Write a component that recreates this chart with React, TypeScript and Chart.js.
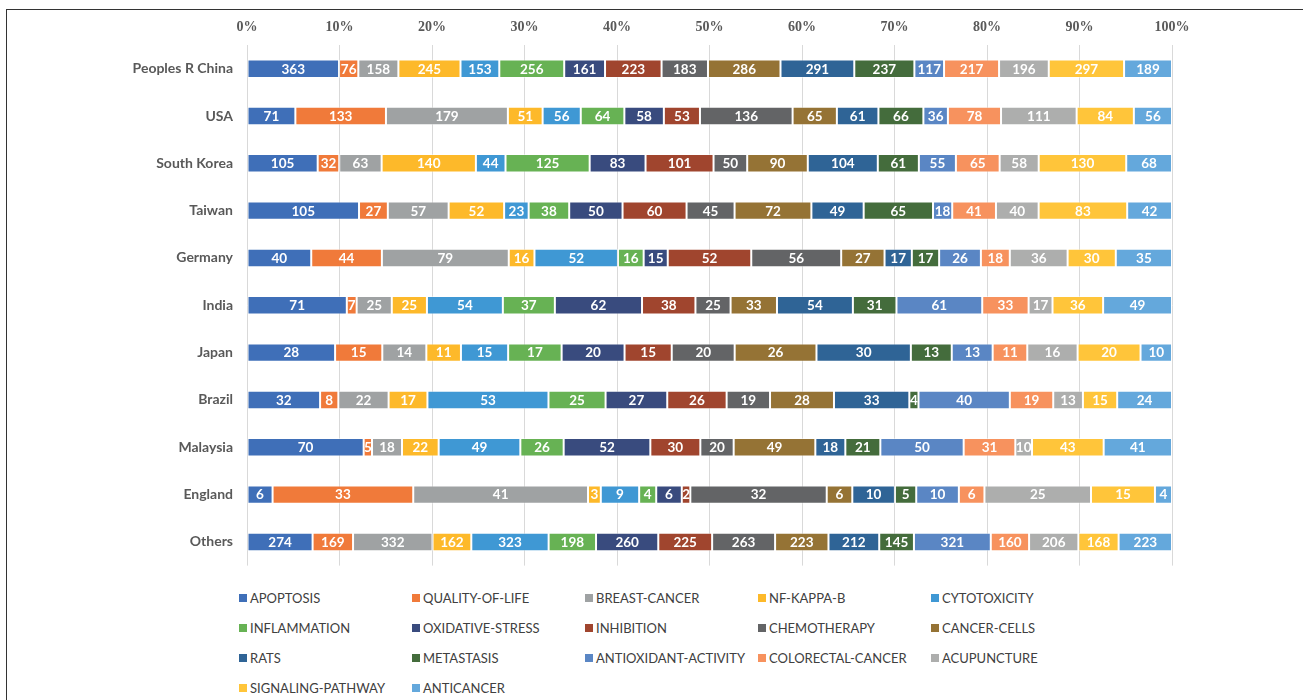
import React, { useEffect, useRef } from "react";
import { Chart, registerables } from "chart.js";

Chart.register(...registerables);

const countries = [
  "Peoples R China",
  "USA",
  "South Korea",
  "Taiwan",
  "Germany",
  "India",
  "Japan",
  "Brazil",
  "Malaysia",
  "England",
  "Others",
];

const keywords = [
  "APOPTOSIS",
  "QUALITY-OF-LIFE",
  "BREAST-CANCER",
  "NF-KAPPA-B",
  "CYTOTOXICITY",
  "INFLAMMATION",
  "OXIDATIVE-STRESS",
  "INHIBITION",
  "CHEMOTHERAPY",
  "CANCER-CELLS",
  "RATS",
  "METASTASIS",
  "ANTIOXIDANT-ACTIVITY",
  "COLORECTAL-CANCER",
  "ACUPUNCTURE",
  "SIGNALING-PATHWAY",
  "ANTICANCER",
];

const colors = [
  "#3F6FB8",
  "#F07A3A",
  "#9FA2A3",
  "#FDB92A",
  "#3F98D4",
  "#67B254",
  "#394B7E",
  "#A0452E",
  "#636466",
  "#957335",
  "#2F6496",
  "#446C3C",
  "#5A86C4",
  "#F7925E",
  "#ADAEAD",
  "#FFC53A",
  "#64A8DC",
];

// values per country, in keyword order
const chinaValues = [363, 76, 158, 245, 153, 256, 161, 223, 183, 286, 291, 237, 117, 217, 196, 297, 189];
const usaValues = [71, 133, 179, 51, 56, 64, 58, 53, 136, 65, 61, 66, 36, 78, 111, 84, 56];
const southKoreaValues = [105, 32, 63, 140, 44, 125, 83, 101, 50, 90, 104, 61, 55, 65, 58, 130, 68];
const taiwanValues = [105, 27, 57, 52, 23, 38, 50, 60, 45, 72, 49, 65, 18, 41, 40, 83, 42];
const germanyValues = [40, 44, 79, 16, 52, 16, 15, 52, 56, 27, 17, 17, 26, 18, 36, 30, 35];
const indiaValues = [71, 7, 25, 25, 54, 37, 62, 38, 25, 33, 54, 31, 61, 33, 17, 36, 49];
const japanValues = [28, 15, 14, 11, 15, 17, 20, 15, 20, 26, 30, 13, 13, 11, 16, 20, 10];
const brazilValues = [32, 8, 22, 17, 53, 25, 27, 26, 19, 28, 33, 4, 40, 19, 13, 15, 24];
const malaysiaValues = [70, 5, 18, 22, 49, 26, 52, 30, 20, 49, 18, 21, 50, 31, 10, 43, 41];
const englandValues = [6, 33, 41, 3, 9, 4, 6, 2, 32, 6, 10, 5, 10, 6, 25, 15, 4];
const othersValues = [274, 169, 332, 162, 323, 198, 260, 225, 263, 223, 212, 145, 321, 160, 206, 168, 223];

const countryValues = [
  chinaValues,
  usaValues,
  southKoreaValues,
  taiwanValues,
  germanyValues,
  indiaValues,
  japanValues,
  brazilValues,
  malaysiaValues,
  englandValues,
  othersValues,
];

const xTicks = [0, 10, 20, 30, 40, 50, 60, 70, 80, 90, 100];

const valueLabelPlugin = {
  id: "valueLabels",
  afterDatasetsDraw(chart: any) {
    const ctx = chart.ctx;
    ctx.save();
    ctx.fillStyle = "#ffffff";
    ctx.font = "bold 13.5px Lato, 'Open Sans', sans-serif";
    ctx.textAlign = "center";
    ctx.textBaseline = "middle";
    chart.data.datasets.forEach((ds: any, di: number) => {
      const meta = chart.getDatasetMeta(di);
      if (meta.hidden) return;
      meta.data.forEach((el: any, i: number) => {
        const raw = ds.rawValues[i];
        const cx = (el.x + el.base) / 2;
        ctx.fillText(String(raw), cx, el.y + 0.5);
      });
    });
    ctx.restore();
  },
};

export default function App() {
  const canvasRef = useRef<HTMLCanvasElement | null>(null);

  useEffect(() => {
    const totals = countryValues.map((row) => row.reduce((a, b) => a + b, 0));
    const datasets = keywords.map((kw, k) => ({
      label: kw,
      data: countryValues.map((row, c) => (row[k] / totals[c]) * 100),
      rawValues: countryValues.map((row) => row[k]),
      backgroundColor: colors[k],
      borderColor: "rgba(255,255,255,0.45)",
      borderWidth: 1,
      borderSkipped: false,
      barPercentage: 0.78,
      categoryPercentage: 0.5,
    }));

    const chart = new Chart(canvasRef.current as HTMLCanvasElement, {
      type: "bar",
      data: { labels: countries, datasets: datasets as any },
      plugins: [valueLabelPlugin],
      options: {
        indexAxis: "y",
        responsive: false,
        animation: false,
        layout: { padding: { left: 0, right: 131, top: 0, bottom: 8 } },
        plugins: {
          legend: { display: false },
          tooltip: { enabled: false },
        },
        scales: {
          x: {
            position: "top",
            stacked: true,
            min: 0,
            max: 100,
            afterBuildTicks: (scale: any) => {
              scale.ticks = xTicks.map((v) => ({ value: v }));
            },
            afterFit: (scale: any) => {
              scale.height = 45;
            },
            ticks: {
              padding: 9,
              color: "#595959",
              font: { family: "'Liberation Serif', 'Times New Roman', serif", size: 14, weight: "bold" },
              callback: (v: any) => v + "%",
            },
            grid: { color: "#d9d9d9", lineWidth: 1, drawTicks: false },
            border: { display: false },
          },
          y: {
            stacked: true,
            afterFit: (scale: any) => {
              scale.width = 247;
            },
            ticks: {
              padding: 6,
              color: "#595959",
              font: { family: "Lato, 'Open Sans', sans-serif", size: 14, weight: "bold" },
            },
            grid: { display: false },
            border: { display: false },
          },
        },
      } as any,
    });
    return () => chart.destroy();
  }, []);

  return (
    <div style={{ position: "absolute", left: 0, top: 0, width: 1303, height: 700, overflow: "hidden", background: "#fff" }}>
      <div
        style={{
          position: "absolute",
          left: 6,
          top: 9,
          width: 1320,
          height: 720,
          borderLeft: "1.5px solid #333",
          borderTop: "1.5px solid #333",
        }}
      />
      <canvas ref={canvasRef} width={1303} height={580} style={{ position: "absolute", left: 0, top: 0 }} />
      <div
        style={{
          position: "absolute",
          left: 239,
          top: 589,
          display: "grid",
          gridTemplateColumns: "repeat(5, 173px)",
          gridAutoRows: "30px",
          fontFamily: "Lato, 'Open Sans', sans-serif",
          fontSize: 13,
          color: "#404040",
        }}
      >
        {keywords.map((kw, k) => (
          <div key={kw} style={{ display: "flex", alignItems: "center", whiteSpace: "nowrap", height: 18 }}>
            <span style={{ display: "inline-block", width: 8, height: 8, background: colors[k], marginRight: 3 }} />
            <span>{kw}</span>
          </div>
        ))}
      </div>
    </div>
  );
}
